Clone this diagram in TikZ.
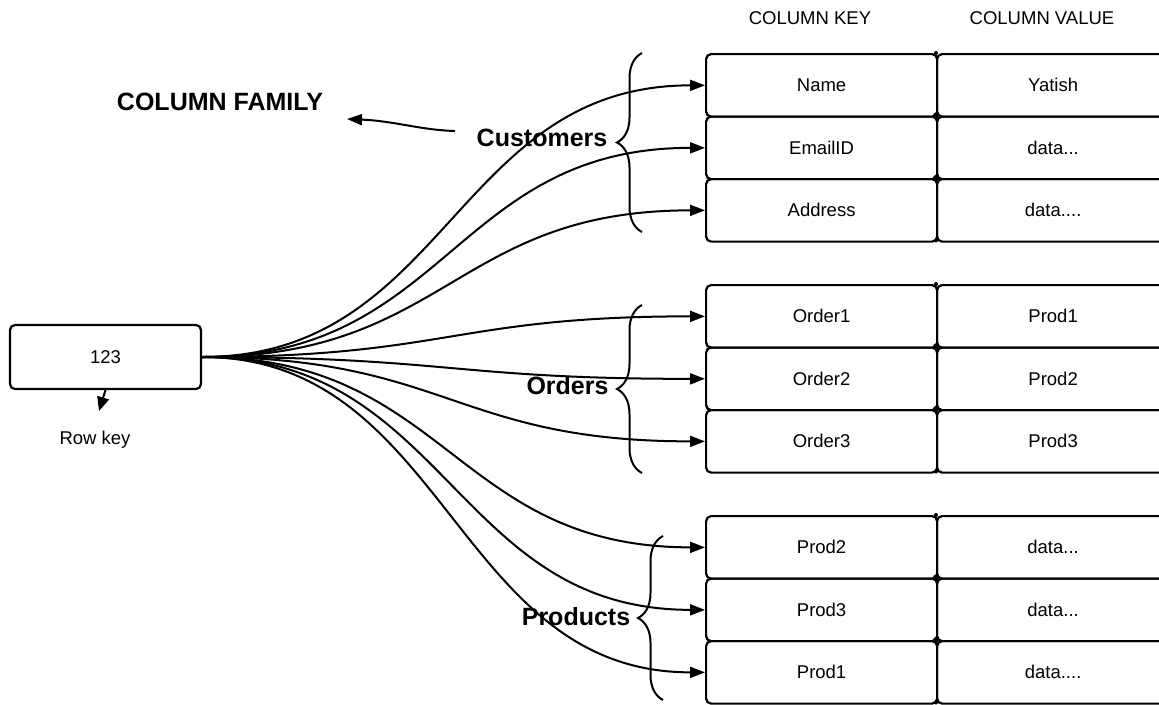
\documentclass[tikz,border=0pt]{standalone}
\usepackage{fontspec}
\setmainfont{Liberation Sans}
\usetikzlibrary{arrows.meta,decorations.pathreplacing}

\begin{document}
\begin{tikzpicture}[x=1pt,y=-1pt,
  cell/.style={draw, line width=2.2pt, rounded corners=5pt, anchor=north west,
    minimum height=62.5pt, inner sep=0pt, font=\fontsize{18.5}{20}\selectfont},
  keycell/.style={cell, minimum width=231pt},
  valcell/.style={cell, minimum width=232pt},
  rowbox/.style={draw, line width=2.2pt, rounded corners=5pt, minimum width=191pt,
    minimum height=64pt, inner sep=0pt, font=\fontsize{18.5}{20}\selectfont},
  plain/.style={inner sep=0pt, font=\fontsize{18.5}{20}\selectfont},
  family/.style={inner sep=0pt, font=\fontsize{25}{27}\selectfont\bfseries},
  conn/.style={line width=2pt, -{Triangle[length=15pt,width=11pt]}},
  brace/.style={decorate, decoration={brace, amplitude=25pt}, line width=2pt},
  joint/.style={fill, circle, inner sep=0pt, minimum size=#1},
]
\useasboundingbox (0,0) rectangle (1159,704);
\clip (0,0) rectangle (1159,704);

% column headers
\node[plain] (hkey) at (810,18) {COLUMN KEY};
\node[plain] (hval) at (1042,18) {COLUMN VALUE};

% Customers rows
\node[keycell] (ka) at (705,53)    {Name};
\node[valcell] (va) at (936,53)    {Yatish};
\node[keycell] (kb) at (705,115.5) {EmailID};
\node[valcell] (vb) at (936,115.5) {data...};
\node[keycell] (kc) at (705,178)   {Address};
\node[valcell] (vc) at (936,178)   {data....};
% Orders rows
\node[keycell] (kd) at (705,284)   {Order1};
\node[valcell] (vd) at (936,284)   {Prod1};
\node[keycell] (ke) at (705,346.5) {Order2};
\node[valcell] (ve) at (936,346.5) {Prod2};
\node[keycell] (kf) at (705,409)   {Order3};
\node[valcell] (vf) at (936,409)   {Prod3};
% Products rows
\node[keycell] (kg) at (705,515)   {Prod2};
\node[valcell] (vg) at (936,515)   {data...};
\node[keycell] (kh) at (705,577.5) {Prod3};
\node[valcell] (vh) at (936,577.5) {data...};
\node[keycell] (ki) at (705,640)   {Prod1};
\node[valcell] (vi) at (936,640)   {data....};

% small dots where the rounded cells meet
\foreach \y in {115.5,178,346.5,409,577.5,640}
  \node[joint=6pt] at (936,\y) {};
\foreach \y in {53,240.5,284,471.5,515,702.5}
  \node[joint=4pt] at (936,\y) {};

% row key box
\node[rowbox] (rk) at (105.5,357) {123};
\node[plain] (rklabel) at (95,440) {Row key};
\coordinate (rktip) at (99,411);
\draw[line width=2pt, -{Triangle[length=14pt,width=12pt]}] (rk.south) -- (rktip);

% column family label and its pointer
\node[family] (cf) at (220,102) {COLUMN FAMILY};
\coordinate (cfstart) at (455,131);
\coordinate (cftip) at (347,119);
\draw[conn] (cfstart) .. controls (420,130) and (395,121) .. (cftip);

% family names with braces
\node[family] (cust) at (542,138) {Customers};
\node[family] (ord) at (567.5,386) {Orders};
\node[family] (prod) at (576,617) {Products};
\draw[brace] (642,232) -- (642,53);
\draw[brace] (642,473) -- (642,305);
\draw[brace] (663,700) -- (663,536);

% connectors from the row key to every column key
\foreach \n in {a,b,c,d,e,f,g,h,i}
  \draw[conn] (rk.east) .. controls +(245,0) and +(-250,0) .. (k\n.west);
\end{tikzpicture}
\end{document}
